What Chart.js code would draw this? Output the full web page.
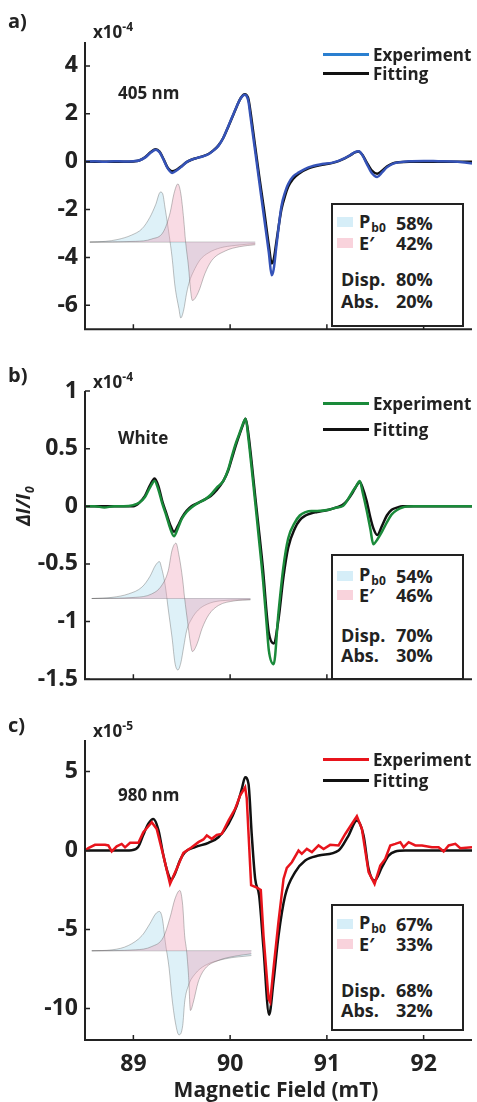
<!DOCTYPE html>
<html>
<head>
<meta charset="utf-8">
<script src="https://cdn.jsdelivr.net/npm/chart.js"></script>
<style>
  body { margin: 0; width: 477px; height: 1102px; background: #fff; position: relative; overflow: hidden;
         font-family: 'Open Sans', 'DejaVu Sans', sans-serif; font-weight: 700; color: #222; }
  canvas { position: absolute; left: 0; }
  .t { position: absolute; white-space: nowrap; line-height: 1; transform: translateY(-50%); }
  .lg { position: absolute; height: 2.5px; width: 46px; left: 323px; }
  .box { position: absolute; left: 331px; width: 129px; border: 2px solid #222; background: #fff; }
  .sw { position: absolute; left: 337px; width: 16px; height: 10px; }
  .bx { font-size: 18px; }
  sub { font-size: 12px; vertical-align: -4px; margin-left: 1px; }
  sup { font-size: 12px; vertical-align: 7px; }
</style>
</head>
<body>
<canvas id="chartA" width="477" height="350" style="top:0px"></canvas>
<canvas id="chartB" width="477" height="350" style="top:350px"></canvas>
<canvas id="chartC" width="477" height="402" style="top:700px"></canvas>

<!-- panel labels -->
<div class="t" style="left:8px;top:21px;font-size:20px">a)</div>
<div class="t" style="left:8px;top:375px;font-size:20px">b)</div>
<div class="t" style="left:8px;top:725px;font-size:20px">c)</div>

<div class="t" style="left:93px;top:30px;font-size:17px">x10<sup>-4</sup></div>
<div class="t" style="left:93px;top:380px;font-size:17px">x10<sup>-4</sup></div>
<div class="t" style="left:93px;top:729px;font-size:17px">x10<sup>-5</sup></div>

<div class="t" style="left:118px;top:92px;font-size:17px">405 nm</div>
<div class="t" style="left:118px;top:437px;font-size:17px">White</div>
<div class="t" style="left:118px;top:794px;font-size:17px">980 nm</div>

<!-- legends -->
<div class="lg" style="top:53px;background:#2a7fd0"></div>
<div class="lg" style="top:72px;background:#111"></div>
<div class="t" style="left:373px;top:54px;font-size:17px">Experiment</div>
<div class="t" style="left:373px;top:73px;font-size:17px">Fitting</div>

<div class="lg" style="top:402px;background:#1a8a3a"></div>
<div class="lg" style="top:428px;background:#111"></div>
<div class="t" style="left:373px;top:403px;font-size:17px">Experiment</div>
<div class="t" style="left:373px;top:429px;font-size:17px">Fitting</div>

<div class="lg" style="top:758px;background:#e8141c"></div>
<div class="lg" style="top:779px;background:#111"></div>
<div class="t" style="left:373px;top:759px;font-size:17px">Experiment</div>
<div class="t" style="left:373px;top:780px;font-size:17px">Fitting</div>

<!-- inset boxes -->
<div class="box" style="top:203px;height:120px"></div>
<div class="sw" style="top:217px;background:#d6eef8"></div>
<div class="sw" style="top:238px;background:#f9d3dc"></div>
<div class="t bx" style="left:359px;top:223px">P<sub>b0</sub></div>
<div class="t bx" style="left:359px;top:243px">E&#8242;</div>
<div class="t bx" style="left:396px;top:223px">58%</div>
<div class="t bx" style="left:396px;top:243px">42%</div>
<div class="t bx" style="left:341px;top:279px">Disp.</div>
<div class="t bx" style="left:341px;top:301px">Abs.</div>
<div class="t bx" style="left:396px;top:279px">80%</div>
<div class="t bx" style="left:396px;top:301px">20%</div>

<div class="box" style="top:554px;height:122px"></div>
<div class="sw" style="top:571px;background:#d6eef8"></div>
<div class="sw" style="top:590px;background:#f9d3dc"></div>
<div class="t bx" style="left:359px;top:576px">P<sub>b0</sub></div>
<div class="t bx" style="left:359px;top:595px">E&#8242;</div>
<div class="t bx" style="left:396px;top:576px">54%</div>
<div class="t bx" style="left:396px;top:595px">46%</div>
<div class="t bx" style="left:341px;top:635px">Disp.</div>
<div class="t bx" style="left:341px;top:655px">Abs.</div>
<div class="t bx" style="left:396px;top:635px">70%</div>
<div class="t bx" style="left:396px;top:655px">30%</div>

<div class="box" style="top:904px;height:123px"></div>
<div class="sw" style="top:919px;background:#d6eef8"></div>
<div class="sw" style="top:939px;background:#f9d3dc"></div>
<div class="t bx" style="left:359px;top:924px">P<sub>b0</sub></div>
<div class="t bx" style="left:359px;top:944px">E&#8242;</div>
<div class="t bx" style="left:396px;top:924px">67%</div>
<div class="t bx" style="left:396px;top:944px">33%</div>
<div class="t bx" style="left:341px;top:990px">Disp.</div>
<div class="t bx" style="left:341px;top:1010px">Abs.</div>
<div class="t bx" style="left:396px;top:990px">68%</div>
<div class="t bx" style="left:396px;top:1010px">32%</div>

<!-- axis titles -->
<div class="t" style="left:25px;top:506px;font-size:19px;font-style:italic;transform:translate(-50%,-50%) rotate(-90deg)">&Delta;I/I<sub style="font-size:12px">0</sub></div>
<div class="t" style="left:276px;top:1089px;font-size:21px;transform:translate(-50%,-50%)">Magnetic Field (mT)</div>

<script>
// axis ticks
const fieldTicks = [89, 90, 91, 92];
const yTicksA = [-6, -4, -2, 0, 2, 4];
const yTicksB = [-1.5, -1, -0.5, 0, 0.5, 1];
const yTicksC = [-10, -5, 0, 5];

// panel a (405 nm), units of 1e-4
const fieldA = [88.50, 88.60, 88.70, 88.80, 88.90, 89.00, 89.06, 89.12, 89.18, 89.23, 89.27, 89.31, 89.35, 89.40,
  89.45, 89.50, 89.55, 89.60, 89.66, 89.72, 89.78, 89.83, 89.88, 89.93, 89.98, 90.03, 90.07, 90.11, 90.15, 90.17,
  90.19, 90.21, 90.25, 90.30, 90.35, 90.40, 90.43, 90.45, 90.48, 90.53, 90.57, 90.60, 90.65, 90.71, 90.81, 90.95,
  91.05, 91.12, 91.18, 91.24, 91.29, 91.33, 91.37, 91.41, 91.46, 91.52, 91.57, 91.62, 91.68, 91.74, 91.85, 92.00,
  92.15, 92.30, 92.40, 92.50];
const expA = [0.00, 0.02, 0.00, 0.02, 0.01, 0.02, 0.05, 0.17, 0.38, 0.50, 0.40, 0.10, -0.25, -0.47,
  -0.36, -0.20, -0.02, 0.08, 0.16, 0.22, 0.32, 0.47, 0.67, 1.00, 1.47, 1.95, 2.33, 2.65, 2.80, 2.75,
  2.50, 1.90, 0.70, -0.80, -2.30, -3.80, -4.75, -4.50, -3.47, -1.87, -1.25, -0.93, -0.62, -0.45, -0.24, -0.10,
  -0.05, 0.03, 0.14, 0.27, 0.40, 0.44, 0.25, -0.07, -0.45, -0.64, -0.45, -0.24, -0.09, -0.03, 0.02, 0.03,
  0.02, 0.01, -0.02, -0.08];
const fitA = [0.00, 0.00, 0.00, 0.00, 0.00, 0.01, 0.05, 0.18, 0.40, 0.52, 0.42, 0.12, -0.22, -0.40,
  -0.33, -0.18, -0.02, 0.08, 0.16, 0.23, 0.33, 0.48, 0.68, 1.00, 1.45, 1.93, 2.32, 2.66, 2.82, 2.78,
  2.60, 2.10, 0.90, -0.60, -2.00, -3.50, -4.25, -4.10, -3.30, -2.00, -1.40, -1.05, -0.72, -0.50, -0.28, -0.13,
  -0.06, 0.02, 0.13, 0.26, 0.39, 0.43, 0.27, -0.02, -0.35, -0.50, -0.38, -0.20, -0.07, -0.02, 0.00, 0.00,
  0.00, 0.00, 0.00, 0.00];

// panel b (white), units of 1e-4
const fieldB = [88.50, 88.60, 88.70, 88.80, 88.90, 89.00, 89.06, 89.12, 89.17, 89.22, 89.26, 89.30, 89.34, 89.38,
  89.42, 89.46, 89.50, 89.55, 89.60, 89.67, 89.74, 89.80, 89.86, 89.93, 89.98, 90.02, 90.06, 90.10, 90.13, 90.16,
  90.19, 90.22, 90.26, 90.29, 90.34, 90.38, 90.40, 90.45, 90.50, 90.55, 90.60, 90.67, 90.72, 90.78, 90.84, 90.90,
  91.02, 91.10, 91.16, 91.21, 91.26, 91.30, 91.34, 91.37, 91.41, 91.45, 91.48, 91.52, 91.57, 91.62, 91.67, 91.73,
  91.78, 91.90, 92.10, 92.30, 92.50];
const expB = [0.00, 0.00, -0.01, 0.00, 0.00, 0.01, 0.03, 0.08, 0.16, 0.22, 0.14, 0.02, -0.08, -0.19,
  -0.26, -0.19, -0.11, -0.05, -0.01, 0.03, 0.06, 0.10, 0.16, 0.22, 0.32, 0.44, 0.55, 0.64, 0.71, 0.76,
  0.58, 0.35, 0.03, -0.22, -0.64, -1.05, -1.25, -1.37, -0.92, -0.53, -0.28, -0.14, -0.08, -0.05, -0.04, -0.04,
  -0.03, -0.01, 0.00, 0.05, 0.12, 0.17, 0.22, 0.12, -0.03, -0.20, -0.33, -0.29, -0.22, -0.14, -0.07, -0.03,
  -0.01, 0.00, 0.00, 0.00, 0.00];
const fitB = [0.00, 0.00, 0.00, 0.00, 0.00, 0.00, 0.03, 0.09, 0.18, 0.24, 0.17, 0.04, -0.06, -0.16,
  -0.22, -0.17, -0.10, -0.04, 0.00, 0.03, 0.06, 0.09, 0.14, 0.22, 0.31, 0.42, 0.53, 0.63, 0.70, 0.76,
  0.62, 0.40, 0.08, -0.15, -0.55, -0.95, -1.10, -1.19, -0.98, -0.62, -0.36, -0.19, -0.12, -0.08, -0.06, -0.05,
  -0.03, -0.01, 0.01, 0.05, 0.11, 0.17, 0.21, 0.16, 0.05, -0.10, -0.19, -0.25, -0.17, -0.08, -0.03, -0.01,
  0.00, 0.00, 0.00, 0.00, 0.00];

// panel c (980 nm), units of 1e-5
const fieldExpC = [88.500, 88.534, 88.603, 88.707, 88.741, 88.776, 88.828, 88.879, 88.914, 88.966, 89.052, 89.103,
  89.190, 89.241, 89.310, 89.379, 89.448, 89.517, 89.603, 89.672, 89.724, 89.759, 89.810, 89.862, 89.914, 89.983,
  90.052, 90.103, 90.155, 90.172, 90.217, 90.276, 90.317, 90.345, 90.397, 90.414, 90.448, 90.500, 90.552, 90.586,
  90.638, 90.707, 90.741, 90.793, 90.845, 90.914, 90.966, 91.034, 91.121, 91.190, 91.310, 91.362, 91.431, 91.493,
  91.552, 91.603, 91.655, 91.707, 91.759, 91.793, 91.845, 91.914, 91.983, 92.086, 92.155, 92.207, 92.259, 92.328,
  92.379, 92.500];
const expC = [0.00, 0.15, 0.36, 0.36, 0.32, -0.06, 0.27, 0.42, 0.20, 0.49, 0.49, 1.16,
  1.79, 1.37, -0.32, -2.11, -1.16, -0.15, 0.21, 0.53, 0.70, 0.95, 0.74, 0.99, 1.05, 1.90,
  2.64, 3.48, 4.00, 3.30, -2.20, -2.35, -2.50, -5.40, -9.40, -9.60, -7.50, -4.50, -1.80, -1.10,
  -0.74, 0.00, -0.21, 0.10, -0.10, 0.32, 0.10, 0.36, 0.32, 1.05, 2.17, 1.37, -1.37, -2.11,
  -0.95, -0.53, 0.32, 0.42, 0.53, 0.21, 0.53, 0.32, 0.32, 0.21, 0.21, -0.06, 0.32, 0.42,
  0.15, 0.21];
const fieldFitC = [88.500, 88.845, 88.983, 89.052, 89.103, 89.155, 89.207, 89.259, 89.310, 89.355, 89.390, 89.431,
  89.483, 89.534, 89.638, 89.776, 89.879, 89.983, 90.069, 90.121, 90.155, 90.190, 90.224, 90.259, 90.300, 90.345,
  90.403, 90.448, 90.500, 90.569, 90.672, 90.776, 90.914, 91.121, 91.224, 91.310, 91.379, 91.431, 91.493, 91.569,
  91.638, 91.707, 91.810, 92.500];
const fitC = [0.00, 0.00, 0.02, 0.25, 1.00, 1.70, 2.00, 1.30, -0.30, -1.40, -1.84, -1.45,
  -0.60, -0.10, 0.21, 0.49, 0.84, 1.69, 2.85, 3.90, 4.64, 4.22, 0.95, -1.80, -2.85, -6.20,
  -10.40, -8.30, -5.40, -2.85, -1.37, -0.63, -0.32, 0.00, 0.95, 1.90, 0.95, -1.16, -1.90, -1.05,
  -0.32, -0.06, 0.00, 0.00];

// inset components: Pb0 (blue) and E' (pink)
const insetBaseA = -3.36;
const pbFieldA = [88.55, 88.71, 88.84, 88.98, 89.09, 89.17, 89.23, 89.28, 89.30, 89.33, 89.37, 89.40, 89.43, 89.47,
  89.49, 89.52, 89.55, 89.58, 89.62, 89.69, 89.78, 89.90, 90.05, 90.26];
const pbA = [-3.36, -3.33, -3.25, -3.07, -2.80, -2.33, -1.80, -1.27, -1.31, -2.00, -3.07, -4.00, -5.20, -6.13,
  -6.53, -6.20, -5.50, -5.00, -4.60, -4.10, -3.80, -3.60, -3.50, -3.42];
const eFieldA = [88.55, 89.02, 89.19, 89.31, 89.38, 89.42, 89.46, 89.49, 89.52, 89.54, 89.57, 89.59, 89.61, 89.67,
  89.74, 89.81, 89.95, 90.10, 90.26];
const eA = [-3.36, -3.33, -3.23, -2.93, -2.13, -1.33, -0.93, -1.33, -2.40, -3.36, -4.40, -5.33, -5.80, -5.47,
  -4.67, -4.13, -3.73, -3.55, -3.47];

const insetBaseB = -0.80;
const pbFieldB = [88.57, 88.78, 88.95, 89.09, 89.17, 89.23, 89.27, 89.29, 89.33, 89.36, 89.40, 89.43, 89.46, 89.49,
  89.52, 89.55, 89.60, 89.67, 89.76, 89.90, 90.21];
const pbB = [-0.80, -0.79, -0.76, -0.70, -0.61, -0.51, -0.48, -0.53, -0.69, -0.89, -1.14, -1.36, -1.42, -1.36,
  -1.22, -1.08, -0.98, -0.90, -0.85, -0.82, -0.81];
const eFieldB = [88.57, 89.02, 89.19, 89.29, 89.36, 89.40, 89.44, 89.47, 89.51, 89.53, 89.56, 89.59, 89.61, 89.66,
  89.71, 89.78, 89.88, 90.05, 90.21];
const eB = [-0.80, -0.79, -0.76, -0.69, -0.56, -0.38, -0.32, -0.42, -0.64, -0.80, -1.00, -1.19, -1.26, -1.19,
  -1.06, -0.94, -0.86, -0.82, -0.81];

const insetBaseC = -6.35;
const pbFieldC = [88.57, 88.78, 88.95, 89.09, 89.17, 89.23, 89.27, 89.30, 89.33, 89.37, 89.40, 89.44, 89.47, 89.51,
  89.53, 89.57, 89.64, 89.74, 89.95, 90.22];
const pbC = [-6.35, -6.29, -6.01, -5.38, -4.64, -4.01, -3.86, -4.32, -5.80, -7.49, -9.39, -11.08, -11.67, -11.08,
  -9.60, -8.54, -7.80, -7.28, -6.86, -6.65];
const eFieldC = [88.57, 89.02, 89.19, 89.31, 89.38, 89.43, 89.48, 89.51, 89.53, 89.55, 89.57, 89.59, 89.62, 89.67,
  89.74, 89.88, 90.05, 90.22];
const eC = [-6.35, -6.29, -6.08, -5.49, -4.22, -3.06, -2.53, -3.48, -5.38, -6.35, -7.91, -10.13, -9.60, -8.33,
  -7.49, -6.96, -6.69, -6.54];

Chart.defaults.font.family = "'Open Sans', 'DejaVu Sans', sans-serif";
Chart.defaults.font.weight = 'bold';
Chart.defaults.color = '#222';

function series(fields, values) {
  return fields.map((f, i) => ({ x: f, y: values[i] }));
}

function curve(fields, values, color, order, smooth) {
  return {
    data: series(fields, values),
    borderColor: color,
    borderWidth: 2.5,
    pointRadius: 0,
    fill: false,
    order: order,
    cubicInterpolationMode: smooth ? 'monotone' : 'default',
    tension: 0
  };
}

function inset(fields, values, base, fillColor, order) {
  return {
    data: series(fields, values),
    borderColor: 'rgba(90,90,90,0.55)',
    borderWidth: 0.7,
    backgroundColor: fillColor,
    pointRadius: 0,
    fill: { value: base },
    order: order,
    cubicInterpolationMode: 'monotone'
  };
}

function baseLine(fields, base) {
  return {
    data: [{ x: fields[0], y: base }, { x: fields[fields.length - 1], y: base }],
    borderColor: 'rgba(90,90,90,0.55)',
    borderWidth: 0.7,
    pointRadius: 0,
    fill: false,
    order: 5
  };
}

// left and bottom spines with inward tick marks
const axisFrame = {
  id: 'axisFrame',
  afterDatasetsDraw(chart) {
    const { ctx, chartArea: a, scales: { x, y } } = chart;
    ctx.save();
    ctx.strokeStyle = '#222';
    ctx.lineWidth = 2;
    ctx.beginPath();
    ctx.moveTo(a.left, a.top);
    ctx.lineTo(a.left, a.bottom);
    ctx.lineTo(a.right, a.bottom);
    ctx.stroke();
    ctx.lineWidth = 1.5;
    ctx.beginPath();
    y.ticks.forEach(t => {
      const py = y.getPixelForValue(t.value);
      ctx.moveTo(a.left, py);
      ctx.lineTo(a.left + 5, py);
    });
    x.ticks.forEach(t => {
      const px = x.getPixelForValue(t.value);
      ctx.moveTo(px, a.bottom);
      ctx.lineTo(px, a.bottom - 5);
    });
    ctx.stroke();
    ctx.restore();
  }
};

function buildPanel(id, datasets, yMin, yMax, yTicks, padTop, xHeight, showX) {
  new Chart(document.getElementById(id), {
    type: 'line',
    data: { datasets: datasets },
    options: {
      responsive: false,
      animation: false,
      events: [],
      layout: { padding: { top: padTop, right: 5, left: 0, bottom: 0 } },
      plugins: { legend: { display: false }, tooltip: { enabled: false } },
      scales: {
        x: {
          type: 'linear', min: 88.5, max: 92.5,
          grid: { display: false, drawTicks: false },
          border: { display: false },
          afterBuildTicks: s => { s.ticks = fieldTicks.map(v => ({ value: v })); },
          afterFit: s => { s.height = xHeight; },
          ticks: { display: showX, font: { size: 23, weight: 'bold' }, padding: 11, color: '#222',
                   maxRotation: 0, callback: v => String(v) }
        },
        y: {
          min: yMin, max: yMax,
          grid: { display: false, drawTicks: false },
          border: { display: false },
          afterBuildTicks: s => { s.ticks = yTicks.map(v => ({ value: v })); },
          afterFit: s => { s.width = 85; },
          ticks: { font: { size: 23, weight: 'bold' }, padding: 7, color: '#222', callback: v => String(v) }
        }
      }
    },
    plugins: [axisFrame]
  });
}

const blueFill = 'rgba(160,215,235,0.35)';
const pinkFill = 'rgba(240,160,185,0.38)';

buildPanel('chartA', [
  curve(fieldA, expA, '#3553b8', 0, true),
  curve(fieldA, fitA, '#111', 1, true),
  inset(eFieldA, eA, insetBaseA, pinkFill, 2),
  inset(pbFieldA, pbA, insetBaseA, blueFill, 3),
  baseLine(pbFieldA, insetBaseA)
], -7, 5, yTicksA, 42, 8, false);

buildPanel('chartB', [
  curve(fieldB, expB, '#1a8a3a', 0, true),
  curve(fieldB, fitB, '#111', 1, true),
  inset(eFieldB, eB, insetBaseB, pinkFill, 2),
  inset(pbFieldB, pbB, insetBaseB, blueFill, 3),
  baseLine(pbFieldB, insetBaseB)
], -1.5, 1, yTicksB, 41, 9, false);

buildPanel('chartC', [
  curve(fieldExpC, expC, '#e8141c', 0, false),
  curve(fieldFitC, fitC, '#111', 1, true),
  inset(eFieldC, eC, insetBaseC, pinkFill, 2),
  inset(pbFieldC, pbC, insetBaseC, blueFill, 3),
  baseLine(pbFieldC, insetBaseC)
], -12, 7, yTicksC, 40, 62, true);
</script>
</body>
</html>
